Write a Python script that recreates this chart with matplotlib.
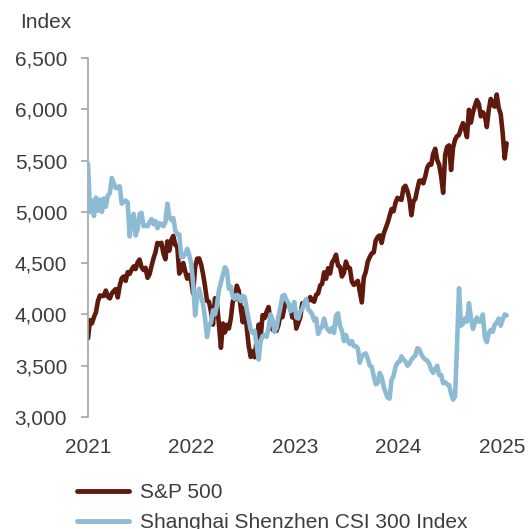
import matplotlib
matplotlib.use("Agg")
import matplotlib.pyplot as plt
import numpy as np

plt.rcParams['font.family'] = ['Liberation Sans', 'DejaVu Sans']

years = ["2021", "2022", "2023", "2024", "2025"]
yticks = [3000, 3500, 4000, 4500, 5000, 5500, 6000, 6500]

# Weekly readings, starting early March 2021
sp500 = [
    # 2021
    3768, 3943, 3913, 3975, 4020, 4129, 4185, 4180, 4181, 4233,
    4174, 4156, 4204, 4230, 4247, 4166, 4281, 4352, 4370, 4327,
    4412, 4395, 4437, 4468, 4442, 4509, 4535, 4459, 4433, 4455,
    4357, 4391, 4471, 4545, 4605, 4697, 4683, 4698, 4595, 4538,
    4712, 4621, 4726, 4766,
    # 2022
    4677, 4663, 4398, 4432, 4501, 4419, 4349, 4385, 4329, 4204,
    4463, 4543, 4546, 4488, 4393, 4272, 4132, 4123, 4024, 3901,
    4158, 4109, 3901, 3675, 3912, 3825, 3899, 3863, 3962, 4130,
    4145, 4280, 4228, 4058, 3924, 4067, 3873, 3693, 3586, 3640,
    3583, 3753, 3901, 3771, 3993, 3965, 4026, 4072, 3934, 3852,
    3845, 3840,
    # 2023
    3895, 3999, 3973, 4071, 4136, 4090, 4079, 3970, 4046, 3862,
    3917, 3971, 4109, 4105, 4138, 4133, 4169, 4136, 4124, 4192,
    4205, 4282, 4299, 4410, 4348, 4450, 4399, 4505, 4536, 4582,
    4478, 4464, 4370, 4406, 4515, 4457, 4450, 4320, 4288, 4309,
    4327, 4224, 4117, 4358, 4415, 4514, 4559, 4595, 4604, 4719,
    4755, 4770,
    # 2024
    4697, 4784, 4840, 4891, 4959, 5027, 5006, 5089, 5137, 5124,
    5117, 5234, 5254, 5204, 5123, 4967, 5100, 5128, 5223, 5303,
    5305, 5278, 5347, 5432, 5465, 5460, 5567, 5615, 5505, 5459,
    5346, 5186, 5554, 5634, 5648, 5408, 5626, 5703, 5738, 5751,
    5815, 5865, 5808, 5729, 5995, 5870, 5969, 6032, 6090, 6051,
    5931, 5971,
    # 2025
    5942, 5827, 5997, 6101, 6041, 6026, 6144, 6013, 5955, 5770,
    5521, 5667,
]

csi300 = [
    # 2021
    5470, 5000, 5110, 4960, 5140, 5010, 5120, 5000, 5130, 5050,
    5160, 5180, 5330, 5280, 5230, 5240, 5250, 5080, 5100, 5110,
    5090, 4760, 4940, 4980, 4770, 4830, 4980, 4990, 4860, 4870,
    4860, 4900, 4930, 4880, 4910, 4840, 4890, 4880, 4860, 4900,
    5080, 4950, 4920, 4940,
    # 2022
    4820, 4780, 4780, 4560, 4560, 4590, 4640, 4580, 4500, 4300,
    3990, 4180, 4250, 4170, 4100, 3960, 3780, 3900, 3920, 4040,
    4000, 4090, 4240, 4310, 4390, 4460, 4430, 4250, 4270, 4170,
    4150, 4190, 4180, 4130, 4180, 4170, 4050, 3950, 3850, 3820,
    3840, 3700, 3560, 3740, 3790, 3800, 3780, 3870, 4000, 3950,
    3830, 3870,
    # 2023
    3980, 4070, 4180, 4190, 4140, 4110, 4030, 4060, 4120, 3970,
    3960, 4030, 4050, 4110, 4150, 4050, 4030, 4000, 3940, 3960,
    3810, 3860, 3880, 3960, 3880, 3850, 3830, 3870, 3820, 3990,
    4010, 3890, 3840, 3740, 3800, 3740, 3710, 3740, 3690, 3690,
    3670, 3530, 3590, 3610, 3620, 3570, 3500, 3490, 3400, 3320,
    3330, 3430,
    # 2024
    3390, 3300, 3240, 3190, 3180, 3360, 3400, 3490, 3530, 3540,
    3590, 3560, 3540, 3500, 3520, 3560, 3580, 3600, 3670, 3660,
    3610, 3580, 3560, 3550, 3520, 3460, 3430, 3470, 3500, 3410,
    3410, 3330, 3340, 3320, 3310, 3230, 3170, 3200, 3700, 4256,
    3890, 3910, 3960, 3930, 4110, 3970, 3860, 3920, 3970, 3930,
    3930, 4000,
    # 2025
    3780, 3730, 3820, 3850, 3830, 3900, 3920, 3960, 3890, 3950,
    4000, 3990,
]

series_names = ["S&P 500", "Shanghai Shenzhen CSI 300 Index"]
colors = ["#5f1a0d", "#8dbbd4"]
text_color = "#3d3d3f"
spine_color = "#a3a3a3"

W, H = 530, 529
fig = plt.figure(figsize=(W / 100, H / 100), dpi=100)
ax_left, ax_right, ax_top, ax_bottom = 88, 510.6, 58, 417
ax = fig.add_axes([ax_left / W, 1 - ax_bottom / H,
                   (ax_right - ax_left) / W, (ax_bottom - ax_top) / H])

weeks_per_year = 52.18
x = np.arange(len(sp500))
l1, = ax.plot(x, sp500, color=colors[0], lw=3.3, solid_joinstyle='round',
              solid_capstyle='round', zorder=2)
x2 = np.arange(len(csi300))
l2, = ax.plot(x2, csi300, color=colors[1], lw=3.3, solid_joinstyle='round',
              solid_capstyle='round', zorder=3)

ax.set_xlim(0, 213)
ax.set_ylim(3000, 6500)
ax.set_yticks(yticks)
ax.set_yticklabels([f"{v:,}" for v in yticks])
ax.set_xticks([i * weeks_per_year for i in range(len(years))])
ax.set_xticklabels(years)

for s in ["top", "right", "bottom"]:
    ax.spines[s].set_visible(False)
ax.spines["left"].set_color(spine_color)
ax.spines["left"].set_linewidth(1.2)

ax.tick_params(axis="y", length=5, width=1.2, color=spine_color, pad=10,
               labelsize=15, labelcolor=text_color)
ax.tick_params(axis="x", length=0, pad=15, labelsize=15, labelcolor=text_color)
ax.patch.set_alpha(0)

fig.text(20 / W, 1 - 23 / H, "Index", fontsize=15, color=text_color,
         ha="left", va="center")

leg = fig.legend([l1, l2], series_names, loc="upper left",
                 bbox_to_anchor=(77 / W, 1 - 483 / H), frameon=False,
                 fontsize=15, handlelength=2.5, handletextpad=0.5,
                 labelspacing=0.55, borderpad=0, borderaxespad=0)
for t in leg.get_texts():
    t.set_color(text_color)
for h in leg.get_lines():
    h.set_linewidth(3.5)

fig.savefig("out.png", dpi=100)
